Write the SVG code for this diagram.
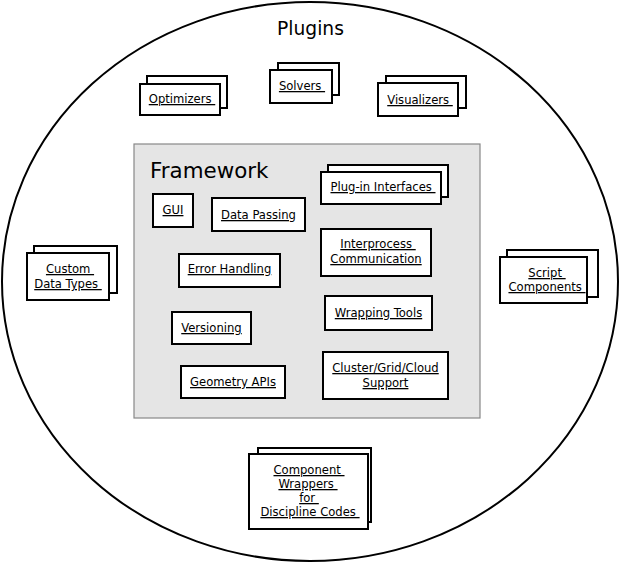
<svg xmlns="http://www.w3.org/2000/svg" width="620" height="563" viewBox="0 0 620 563">
<style>
.b{fill:#fff;stroke:#000;stroke-width:2}
.t{font-family:"DejaVu Sans Condensed","DejaVu Sans",sans-serif;font-stretch:condensed;font-size:12.9px;text-anchor:middle;text-decoration:underline;fill:#000}
</style>
<rect x="0" y="0" width="620" height="563" fill="#fff"/>
<g id="plugins">
<ellipse cx="310" cy="281.5" rx="308" ry="279.5" fill="#fff" stroke="#000" stroke-width="2"/>
<text x="310.5" y="35" font-family="DejaVu Sans,sans-serif" font-size="18.7" text-anchor="middle">Plugins</text>
</g>
<g id="framework">
<rect x="134" y="144" width="346" height="274" fill="#e5e5e5" stroke="#888" stroke-width="1.2"/>
<text x="150" y="178" font-family="DejaVu Sans,sans-serif" font-size="21.4">Framework</text>
</g>
<g id="optimizers">
<rect class="b" x="147" y="76" width="80" height="32"/>
<rect class="b" x="140" y="84" width="80" height="31"/>
<text class="t" x="182" y="103">Optimizers&#160;</text>
</g>
<g id="solvers">
<rect class="b" x="278" y="63" width="61" height="32"/>
<rect class="b" x="270" y="70" width="62" height="33"/>
<text class="t" x="302" y="90">Solvers&#160;</text>
</g>
<g id="visualizers">
<rect class="b" x="386" y="76" width="80" height="32"/>
<rect class="b" x="378" y="83" width="80" height="33"/>
<text class="t" x="420" y="104">Visualizers&#160;</text>
</g>
<g id="plugin-interfaces">
<rect class="b" x="328" y="165" width="120" height="32"/>
<rect class="b" x="321" y="172" width="120" height="32"/>
<text class="t" x="383" y="191">Plug-in Interfaces&#160;</text>
</g>
<g id="gui">
<rect class="b" x="153" y="194" width="40" height="33"/>
<text class="t" x="173" y="214">GUI</text>
</g>
<g id="data-passing">
<rect class="b" x="212" y="198" width="93" height="33"/>
<text class="t" x="258.5" y="219">Data Passing</text>
</g>
<g id="interprocess">
<rect class="b" x="321" y="229" width="110" height="47"/>
<text class="t" x="378" y="248">Interprocess&#160;</text>
<text class="t" x="376" y="263">Communication</text>
</g>
<g id="error-handling">
<rect class="b" x="179" y="254" width="101" height="33"/>
<text class="t" x="229.5" y="273">Error Handling</text>
</g>
<g id="wrapping-tools">
<rect class="b" x="325" y="296" width="107" height="34"/>
<text class="t" x="378.5" y="317">Wrapping Tools</text>
</g>
<g id="versioning">
<rect class="b" x="172" y="312" width="79" height="32"/>
<text class="t" x="211.5" y="332">Versioning</text>
</g>
<g id="geometry-apis">
<rect class="b" x="181" y="366" width="104" height="32"/>
<text class="t" x="233" y="386">Geometry APIs</text>
</g>
<g id="cluster">
<rect class="b" x="323" y="352" width="125" height="47"/>
<text class="t" x="385.5" y="372">Cluster/Grid/Cloud</text>
<text class="t" x="385.5" y="387">Support</text>
</g>
<g id="custom-data-types">
<rect class="b" x="34" y="246" width="83" height="47"/>
<rect class="b" x="27" y="253" width="82" height="47"/>
<text class="t" x="70" y="273">Custom&#160;</text>
<text class="t" x="68" y="288">Data Types&#160;</text>
</g>
<g id="script-components">
<rect class="b" x="507" y="250" width="91" height="47"/>
<rect class="b" x="500" y="257" width="87" height="46"/>
<text class="t" x="547" y="277">Script&#160;</text>
<text class="t" x="547" y="291">Components&#160;</text>
</g>
<g id="component-wrappers">
<rect class="b" x="258" y="448" width="113" height="74"/>
<rect class="b" x="249" y="454" width="119" height="75"/>
<text class="t" x="309" y="474">Component&#160;</text>
<text class="t" x="308" y="488">Wrappers&#160;</text>
<text class="t" x="309" y="502">for&#160;</text>
<text class="t" x="310" y="516">Discipline Codes&#160;</text>
</g>
<g id="connectors"></g>
</svg>
